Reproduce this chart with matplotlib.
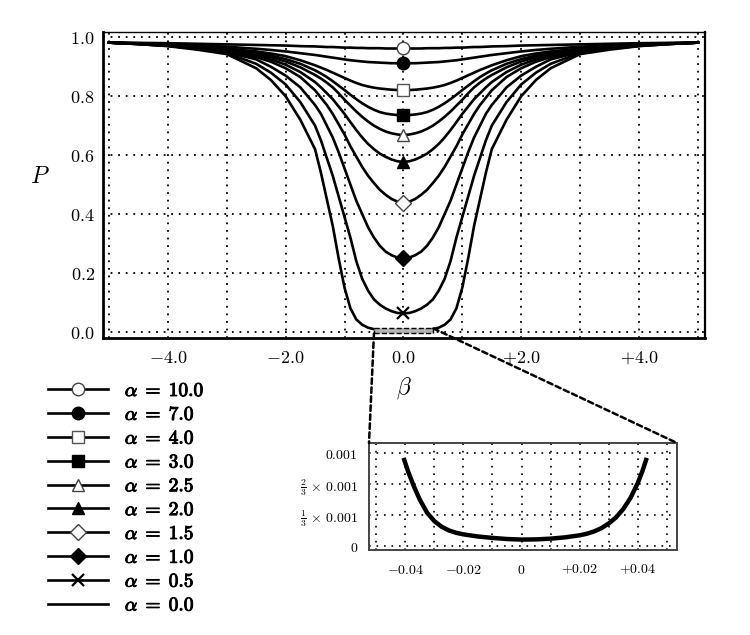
import numpy as np
import matplotlib
matplotlib.use('Agg')
import matplotlib.pyplot as plt
from matplotlib.patches import Rectangle, ConnectionPatch
from matplotlib.lines import Line2D
import matplotlib.patheffects as pe

plt.rcParams['mathtext.fontset'] = 'cm'
plt.rcParams['font.family'] = ['DejaVu Serif']

# ---------------- data ----------------
beta = [-5, -4.5, -4, -3.5, -3, -2.5, -2.25, -2, -1.75, -1.5, -1.4, -1.3, -1.2, -1.1, -1.0,
        -0.9, -0.8, -0.7, -0.6, -0.5, -0.4, -0.3, -0.2, -0.1, 0,
        0.1, 0.2, 0.3, 0.4, 0.5, 0.6, 0.7, 0.8, 0.9, 1.0, 1.1, 1.2, 1.3, 1.4, 1.5,
        1.75, 2, 2.25, 2.5, 3, 3.5, 4, 4.5, 5]

alpha_labels = ['10.0', '7.0', '4.0', '3.0', '2.5', '2.0', '1.5', '1.0', '0.5', '0.0']

P_a10 = [0.982, 0.981, 0.980, 0.978, 0.976, 0.974, 0.973, 0.972, 0.970, 0.969, 0.968, 0.967, 0.967, 0.966, 0.965,
         0.965, 0.964, 0.964, 0.963, 0.963, 0.963, 0.962, 0.962, 0.962, 0.962,
         0.962, 0.962, 0.962, 0.963, 0.963, 0.963, 0.964, 0.964, 0.965, 0.965, 0.966, 0.967, 0.967, 0.968, 0.969,
         0.970, 0.972, 0.973, 0.974, 0.976, 0.978, 0.980, 0.981, 0.982]
P_a7 = [0.982, 0.980, 0.977, 0.973, 0.968, 0.961, 0.957, 0.952, 0.946, 0.940, 0.937, 0.934, 0.931, 0.928, 0.925,
        0.922, 0.920, 0.918, 0.916, 0.915, 0.914, 0.913, 0.912, 0.912, 0.912,
        0.912, 0.912, 0.913, 0.914, 0.915, 0.916, 0.918, 0.920, 0.922, 0.925, 0.928, 0.931, 0.934, 0.937, 0.940,
        0.946, 0.952, 0.957, 0.961, 0.968, 0.973, 0.977, 0.980, 0.982]
P_a4 = [0.982, 0.979, 0.976, 0.970, 0.962, 0.952, 0.945, 0.936, 0.922, 0.905, 0.897, 0.889, 0.880, 0.871, 0.862,
        0.853, 0.845, 0.838, 0.833, 0.829, 0.826, 0.824, 0.822, 0.821, 0.821,
        0.821, 0.822, 0.824, 0.826, 0.829, 0.833, 0.838, 0.845, 0.853, 0.862, 0.871, 0.880, 0.889, 0.897, 0.905,
        0.922, 0.936, 0.945, 0.952, 0.962, 0.970, 0.976, 0.979, 0.982]
P_a3 = [0.982, 0.979, 0.975, 0.968, 0.960, 0.947, 0.938, 0.926, 0.910, 0.888, 0.877, 0.865, 0.851, 0.836, 0.821,
        0.805, 0.790, 0.776, 0.764, 0.754, 0.746, 0.741, 0.738, 0.736, 0.735,
        0.736, 0.738, 0.741, 0.746, 0.754, 0.764, 0.776, 0.790, 0.805, 0.821, 0.836, 0.851, 0.865, 0.877, 0.888,
        0.910, 0.926, 0.938, 0.947, 0.960, 0.968, 0.975, 0.979, 0.982]
P_a25 = [0.982, 0.978, 0.974, 0.967, 0.958, 0.943, 0.932, 0.918, 0.898, 0.872, 0.860, 0.846, 0.830, 0.810, 0.788,
         0.768, 0.748, 0.730, 0.714, 0.700, 0.689, 0.680, 0.674, 0.670, 0.668,
         0.670, 0.674, 0.680, 0.689, 0.700, 0.714, 0.730, 0.748, 0.768, 0.788, 0.810, 0.830, 0.846, 0.860, 0.872,
         0.898, 0.918, 0.932, 0.943, 0.958, 0.967, 0.974, 0.978, 0.982]
P_a2 = [0.982, 0.978, 0.973, 0.965, 0.955, 0.938, 0.925, 0.907, 0.882, 0.848, 0.830, 0.810, 0.790, 0.765, 0.740,
        0.712, 0.685, 0.660, 0.638, 0.620, 0.605, 0.594, 0.585, 0.579, 0.577,
        0.579, 0.585, 0.594, 0.605, 0.620, 0.638, 0.660, 0.685, 0.712, 0.740, 0.765, 0.790, 0.810, 0.830, 0.848,
        0.882, 0.907, 0.925, 0.938, 0.955, 0.965, 0.973, 0.978, 0.982]
P_a15 = [0.982, 0.978, 0.972, 0.964, 0.953, 0.933, 0.917, 0.895, 0.865, 0.820, 0.795, 0.770, 0.740, 0.705, 0.670,
         0.630, 0.595, 0.560, 0.530, 0.505, 0.482, 0.465, 0.451, 0.442, 0.438,
         0.442, 0.451, 0.465, 0.482, 0.505, 0.530, 0.560, 0.595, 0.630, 0.670, 0.705, 0.740, 0.770, 0.795, 0.820,
         0.865, 0.895, 0.917, 0.933, 0.953, 0.964, 0.972, 0.978, 0.982]
P_a1 = [0.982, 0.977, 0.971, 0.962, 0.950, 0.925, 0.900, 0.870, 0.830, 0.770, 0.740, 0.700, 0.660, 0.610, 0.555,
        0.500, 0.445, 0.400, 0.355, 0.320, 0.292, 0.272, 0.260, 0.252, 0.250,
        0.252, 0.260, 0.272, 0.292, 0.320, 0.355, 0.400, 0.445, 0.500, 0.555, 0.610, 0.660, 0.700, 0.740, 0.770,
        0.830, 0.870, 0.900, 0.925, 0.950, 0.962, 0.971, 0.977, 0.982]
P_a05 = [0.982, 0.977, 0.971, 0.961, 0.947, 0.910, 0.880, 0.840, 0.780, 0.700, 0.650, 0.590, 0.530, 0.460, 0.390,
         0.320, 0.240, 0.180, 0.140, 0.110, 0.092, 0.079, 0.070, 0.064, 0.0625,
         0.064, 0.070, 0.079, 0.092, 0.110, 0.140, 0.180, 0.240, 0.320, 0.390, 0.460, 0.530, 0.590, 0.650, 0.700,
         0.780, 0.840, 0.880, 0.910, 0.947, 0.961, 0.971, 0.977, 0.982]
P_a0 = [0.982, 0.977, 0.970, 0.958, 0.943, 0.895, 0.855, 0.800, 0.720, 0.620, 0.540, 0.450, 0.360, 0.250, 0.150,
        0.080, 0.042, 0.024, 0.014, 0.009, 0.006, 0.005, 0.005, 0.005, 0.005,
        0.005, 0.005, 0.005, 0.006, 0.009, 0.014, 0.024, 0.042, 0.080, 0.150, 0.250, 0.360, 0.450, 0.540, 0.620,
        0.720, 0.800, 0.855, 0.895, 0.943, 0.958, 0.970, 0.977, 0.982]

series = [P_a10, P_a7, P_a4, P_a3, P_a25, P_a2, P_a15, P_a1, P_a05, P_a0]

# inset (zoom on the alpha = 0 curve)
beta_zoom = [-0.0406, -0.039, -0.037, -0.035, -0.0325, -0.03, -0.0275, -0.025, -0.0225, -0.02, -0.015,
             -0.01, -0.005, 0.0, 0.005, 0.01, 0.015, 0.02, 0.0225, 0.025, 0.0275, 0.03, 0.0325, 0.035,
             0.0375, 0.04, 0.0415, 0.0431]
P_zoom = [0.95e-3, 0.80e-3, 0.64e-3, 0.50e-3, 0.36e-3, 0.27e-3, 0.21e-3, 0.17e-3, 0.145e-3, 0.128e-3, 0.105e-3,
          0.09e-3, 0.078e-3, 0.072e-3, 0.074e-3, 0.082e-3, 0.096e-3, 0.118e-3, 0.135e-3, 0.16e-3, 0.195e-3,
          0.245e-3, 0.31e-3, 0.40e-3, 0.52e-3, 0.68e-3, 0.80e-3, 0.95e-3]

x_ticklabels = ['$-4.0$', '$-2.0$', '$0.0$', '$+2.0$', '$+4.0$']
y_ticklabels = ['$0.0$', '$0.2$', '$0.4$', '$0.6$', '$0.8$', '$1.0$']
zx_ticklabels = [r'$\mathbf{-0.04}$', r'$\mathbf{-0.02}$', r'$\mathbf{0}$', r'$\mathbf{+0.02}$', r'$\mathbf{+0.04}$']
zy_ticklabels = ['$0$', r'$\mathbf{\frac{1}{3}}\ \mathbf{\times}\ 0.001$', r'$\mathbf{\frac{2}{3}}\ \mathbf{\times}\ 0.001$', '$0.001$']

# zoom region drawn in the main axes
zoom_x = (-0.5, 0.51)
zoom_y = (-0.0055, 0.0115)

# ---------------- styles ----------------
styles = [
    dict(marker='o', mfc='white', mec='#444444', ms=9, mew=1.0),
    dict(marker='o', mfc='black', mec='black', ms=9),
    dict(marker='s', mfc='white', mec='#555555', ms=8, mew=1.0),
    dict(marker='s', mfc='black', mec='black', ms=8),
    dict(marker='^', mfc='white', mec='#444444', ms=9, mew=1.0),
    dict(marker='^', mfc='black', mec='black', ms=9),
    dict(marker='D', mfc='white', mec='#444444', ms=8, mew=1.0),
    dict(marker='D', mfc='black', mec='black', ms=8),
    dict(marker='x', mfc='black', mec='black', ms=9, mew=1.6),
    dict(marker='None'),
]

fig = plt.figure(figsize=(7.5, 6.35), dpi=100)
ax = fig.add_axes([103/750, 1-338/635, 602/750, 306/635])

grid_kw = dict(color='black', linestyle=(0, (1, 3.2)), linewidth=1.3)
center_idx = beta.index(0)
handles = []
for P, st, lab in zip(series, styles, alpha_labels):
    ax.plot(beta, P, color='black', lw=1.9, markevery=[center_idx], zorder=4, **st)
    handles.append(Line2D([], [], color='black', lw=1.9, **st))

ax.set_xlim(-5.1, 5.12)
ax.set_ylim(-0.021, 1.018)
ax.set_xticks(np.arange(-5, 6, 1))
ax.set_xticklabels(['', x_ticklabels[0], '', x_ticklabels[1], '', x_ticklabels[2], '',
                    x_ticklabels[3], '', x_ticklabels[4], ''])
ax.set_yticks([0, 0.2, 0.4, 0.6, 0.8, 1.0])
ax.set_yticklabels(y_ticklabels)
ax.tick_params(axis='both', length=0, labelsize=13)
ax.tick_params(axis='x', pad=8)
ax.tick_params(axis='y', pad=6)
ax.grid(True, **grid_kw)
ax.set_axisbelow(True)
for s in ['left', 'bottom']:
    ax.spines[s].set_linewidth(2.0)
ax.spines['top'].set_linewidth(1.0)
ax.spines['right'].set_linewidth(1.6)

ax.set_xlabel(r'$\beta$', fontsize=17, labelpad=6)
ax.set_ylabel('$P$', fontsize=17, rotation=0, labelpad=22)
ax.yaxis.set_label_coords(-0.105, 0.49)

rect = Rectangle((zoom_x[0], zoom_y[0]), zoom_x[1]-zoom_x[0], zoom_y[1]-zoom_y[0],
                 facecolor='#b5b5b5', edgecolor='black', linestyle='--', lw=1.0, zorder=5)
ax.add_patch(rect)

# ---------------- inset ----------------
axin = fig.add_axes([369/750, 1-550/635, 308/750, 107/635])
axin.plot(beta_zoom, P_zoom, color='black', lw=3.2, solid_capstyle='butt')
axin.set_xlim(-0.0525, 0.0535)
axin.set_ylim(-0.00004, 0.00111)
axin.set_xticks([-0.05, -0.04, -0.03, -0.02, -0.01, 0, 0.01, 0.02, 0.03, 0.04, 0.05])
axin.set_xticklabels(['', zx_ticklabels[0], '', zx_ticklabels[1], '', zx_ticklabels[2], '',
                      zx_ticklabels[3], '', zx_ticklabels[4], ''])
axin.set_yticks([0, 0.001/3, 0.002/3, 0.001])
axin.set_yticklabels(zy_ticklabels)
axin.tick_params(axis='both', length=0)
axin.tick_params(axis='x', pad=9, labelsize=10)
axin.tick_params(axis='y', pad=8, labelsize=10)
axin.grid(True, color='black', linestyle=(0, (1, 3.5)), linewidth=1.2)
axin.set_axisbelow(True)
for s in axin.spines.values():
    s.set_linewidth(1.4)
    s.set_color('#444444')

con_kw = dict(color='black', lw=1.8, linestyle=(0, (2.2, 1.4)), zorder=6)
con1 = ConnectionPatch(xyA=(zoom_x[0], zoom_y[0]), coordsA=ax.transData,
                       xyB=(0, 1), coordsB=axin.transAxes, **con_kw)
con2 = ConnectionPatch(xyA=(zoom_x[1], zoom_y[1]), coordsA=ax.transData,
                       xyB=(1, 1), coordsB=axin.transAxes, **con_kw)
fig.add_artist(con1)
fig.add_artist(con2)

# ---------------- legend ----------------
leg = fig.legend(handles, [r'$\alpha\;=\;%s$' % a for a in alpha_labels],
                 loc='upper left', bbox_to_anchor=(48/750, 1-382/635),
                 frameon=False, fontsize=14, handlelength=3.1, handletextpad=0.85,
                 labelspacing=0.30, borderpad=0, borderaxespad=0, numpoints=1)
for t in leg.get_texts():
    t.set_path_effects([pe.withStroke(linewidth=0.7, foreground='black')])

fig.savefig('out.png', dpi=100, facecolor='white')
